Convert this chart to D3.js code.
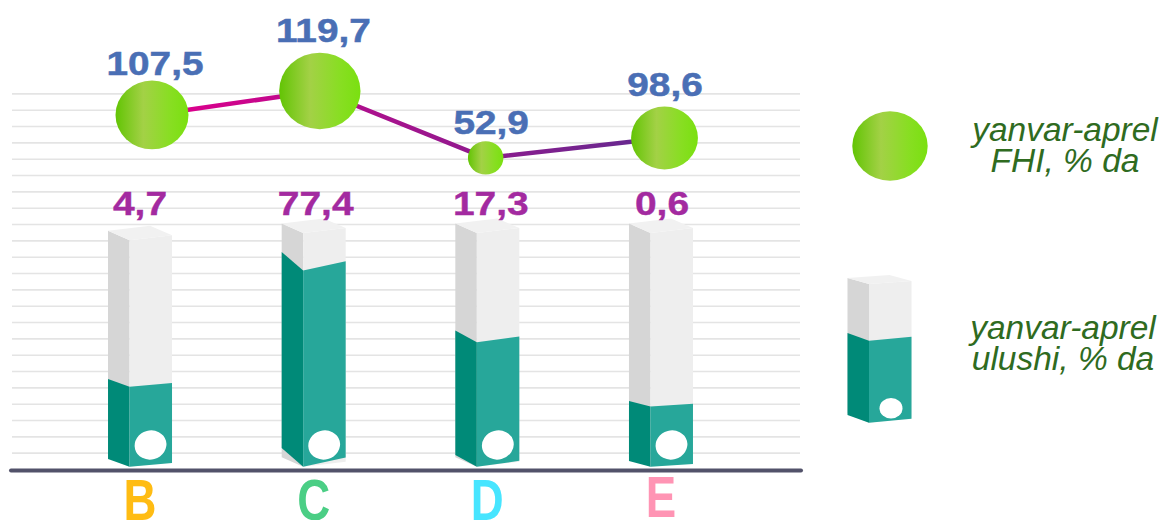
<!DOCTYPE html>
<html>
<head>
<meta charset="utf-8">
<script src="https://cdn.jsdelivr.net/npm/d3@7"></script>
<style>
    html, body { margin: 0; padding: 0; background: #fff; }
    svg { display: block; }
    text { font-family: "Liberation Sans", Arial, sans-serif; }
    .grid line { stroke: #e4e4e4; stroke-width: 1.6; }
    .cat-axis text { font-family: "Liberation Sans", sans-serif; font-weight: bold; font-size: 57px; }
    .fhi-label { fill: #4a6fb5; stroke: #4a6fb5; stroke-width: 0.5; font-weight: bold; font-size: 34px; }
    .share-label { fill: #a32aa0; stroke: #a32aa0; stroke-width: 0.4; font-weight: bold; font-size: 33px; }
    .legend-label { fill: #2f6b1f; font-style: italic; font-size: 33.5px; }
</style>
</head>
<body>
<div id="chart"></div>
<script>

// Data
var categories = ["B", "C", "D", "E"];
var fhiValues = [107.5, 119.7, 52.9, 98.6];
var shareValues = [4.7, 77.4, 17.3, 0.6];
var categoryColors = ["#ffbc13", "#4bce85", "#47e5ff", "#ff94b4"];
var gridTicks = d3.range(1, 24);
var legendFhi = ["yanvar-aprel", "FHI, % da"];
var legendShare = ["yanvar-aprel", "ulushi, % da"];

var svg = d3.select("#chart").append("svg")
    .attr("width", 1163)
    .attr("height", 520);

// Scales
//---------
var x = d3.scaleBand()
    .domain(categories)
    .range([53.2, 747.8]);

var dotX = d3.scalePoint()
    .domain(categories)
    .range([152, 664.5]);

// y is counted in grid steps
var y = d3.scaleLinear()
    .domain([0, 23])
    .range([469, 93.4]);

// The original graphic is not drawn to scale, so value -> level is piecewise
var fhiLevel = d3.scaleLinear()
    .domain(d3.sort(fhiValues))
    .range([19.05, 20.27, 21.68, 23.15]);

var shareLevel = d3.scaleLinear()
    .domain(d3.sort(shareValues))
    .range([3.82, 5.04, 7.76, 12.15]);

var radius = d3.scaleLinear()
    .domain([52.9, 119.7])
    .range([17.2, 39.5]);

// Gradients
//---------
var defs = svg.append("defs");

var ballGrad = defs.append("linearGradient").attr("id", "ball");
ballGrad.append("stop").attr("offset", "0").attr("stop-color", "#62c404");
ballGrad.append("stop").attr("offset", "0.38").attr("stop-color", "#a3d146");
ballGrad.append("stop").attr("offset", "0.75").attr("stop-color", "#88de22");
ballGrad.append("stop").attr("offset", "1").attr("stop-color", "#7ae010");

var lineGrad = defs.append("linearGradient")
    .attr("id", "lineGrad")
    .attr("gradientUnits", "userSpaceOnUse")
    .attr("x1", 190).attr("x2", 640).attr("y1", 0).attr("y2", 0);
lineGrad.append("stop").attr("offset", "0").attr("stop-color", "#d9008c");
lineGrad.append("stop").attr("offset", "1").attr("stop-color", "#66298f");

// Grid and axis
//---------
svg.append("g")
    .attr("class", "grid")
    .attr("transform", "translate(12,0)")
    .call(d3.axisLeft(y).tickValues(gridTicks).tickSize(-788).tickFormat(""))
    .call(function (g) { g.select(".domain").remove(); });

svg.append("line")
    .attr("x1", 11).attr("x2", 801)
    .attr("y1", 470.5).attr("y2", 470.5)
    .attr("stroke", "#52526a")
    .attr("stroke-width", 4)
    .attr("stroke-linecap", "round");

var catAxis = svg.append("g")
    .attr("class", "cat-axis")
    .call(d3.axisBottom(x).tickSize(0))
    .call(function (g) { g.select(".domain").remove(); });

// letters in the original are condensed
catAxis.selectAll("text")
    .attr("dy", null)
    .attr("y", function (d) { return d == "E" ? 517 : 520; })
    .attr("transform", "scale(0.8,1)")
    .attr("fill", function (d, i) { return categoryColors[i]; });

// Columns
//---------
function pts(list) {
    return list.map(function (p) { return p.join(","); }).join(" ");
}

// c: centre x, base: y of bottom ridge point, top: y of top ridge point, fill: teal height
function drawColumn(g, c, base, top, fill, topLeft, topRight) {
    var l = c - 32, r = c + 32, m = c - 10.5;
    var slantL = fill * 0.095, slantR = fill * 0.047;

    g.append("polygon").attr("fill", "#d6d6d6")
        .attr("points", pts([[l, top - topLeft], [m, top], [m, base], [l, base - 9.5]]));
    g.append("polygon").attr("fill", "#eeeeee")
        .attr("points", pts([[m, top], [r, top - topRight], [r, base - 5], [m, base]]));
    g.append("polygon").attr("fill", "#f1f1f1")
        .attr("points", pts([[l, top - topLeft], [c + 10, top - topLeft - topRight], [r, top - topRight], [m, top]]));

    g.append("polygon").attr("fill", "#008a78")
        .attr("points", pts([[l, base - fill - slantL], [m, base - fill], [m, base], [l, base - slantL]]));
    g.append("polygon").attr("fill", "#27a79a")
        .attr("points", pts([[m, base - fill], [r, base - fill - slantR], [r, base - slantR], [m, base]]));
}

var columnTop = [14, 14.45, 14.45, 14.45];
var shareNudge = [0, 2, 3.5, 1];
var base = y(0.14);

categories.forEach(function (cat, i) {
    var c = x(cat) + x.bandwidth() / 2;
    var g = svg.append("g").attr("class", "column");
    drawColumn(g, c, base, y(columnTop[i]), base - y(shareLevel(shareValues[i])), 9.5, 5);

    g.append("ellipse")
        .attr("cx", c + 10.5)
        .attr("cy", 445)
        .attr("rx", 16)
        .attr("ry", 14.5)
        .attr("fill", "#fff")
        .attr("transform", "rotate(-15 " + (c + 10.5) + " 445)");

    svg.append("text")
        .attr("class", "share-label")
        .attr("text-anchor", "middle")
        .attr("transform", "translate(" + (c + shareNudge[i]) + ",215) scale(1.18,1)")
        .text(String(shareValues[i]).replace(".", ","));
});

// Line and balls
//---------
var dotNudge = [0, -3, -8, 0];
var labelGap = [5.5, 11, 7, 10];
var labelNudge = [3, 3.5, 5.5, 0.5];

var fhiPoints = categories.map(function (cat, i) {
    return {
        x: dotX(cat) + dotNudge[i],
        y: y(fhiLevel(fhiValues[i])),
        r: radius(fhiValues[i]),
        value: fhiValues[i],
        gap: labelGap[i],
        nudge: labelNudge[i]
    };
});

var line = d3.line()
    .x(function (d) { return d.x; })
    .y(function (d) { return d.y; });

svg.append("path")
    .datum(fhiPoints)
    .attr("d", line)
    .attr("fill", "none")
    .attr("stroke", "url(#lineGrad)")
    .attr("stroke-width", 4.5);

svg.selectAll("ellipse.ball")
    .data(fhiPoints)
    .enter()
    .append("ellipse")
    .attr("class", "ball")
    .attr("fill", "url(#ball)")
    .attr("cx", function (d) { return d.x; })
    .attr("cy", function (d) { return d.y; })
    .attr("rx", function (d) { return d.r * 1.03; })
    .attr("ry", function (d) { return d.r * 0.97; });

svg.selectAll("text.fhi-label")
    .data(fhiPoints)
    .enter()
    .append("text")
    .attr("class", "fhi-label")
    .attr("text-anchor", "middle")
    .attr("transform", function (d) {
        return "translate(" + (d.x + d.nudge) + "," + (d.y - d.r * 0.97 - d.gap) + ") scale(1.14,1)";
    })
    .text(function (d) { return String(d.value).replace(".", ","); });

// Legend
//---------
svg.append("ellipse")
    .attr("cx", 890).attr("cy", 146)
    .attr("rx", 37.7).attr("ry", 34.7)
    .attr("fill", "url(#ball)");

var legendColumn = svg.append("g").attr("class", "legend-column");
drawColumn(legendColumn, 879.5, 422.7, 284, 82, 6, 3);

legendColumn.append("ellipse")
    .attr("cx", 891).attr("cy", 408.3)
    .attr("rx", 11.5).attr("ry", 10.3)
    .attr("fill", "#fff");

function legendText(lines, cx, firstBaseline) {
    svg.selectAll(null)
        .data(lines)
        .enter()
        .append("text")
        .attr("class", "legend-label")
        .attr("text-anchor", "middle")
        .attr("x", cx)
        .attr("y", function (d, i) { return firstBaseline + i * 31; })
        .text(function (d) { return d; });
}

legendText(legendFhi, 1065, 141);
legendText(legendShare, 1063, 339);

</script>
</body>
</html>
